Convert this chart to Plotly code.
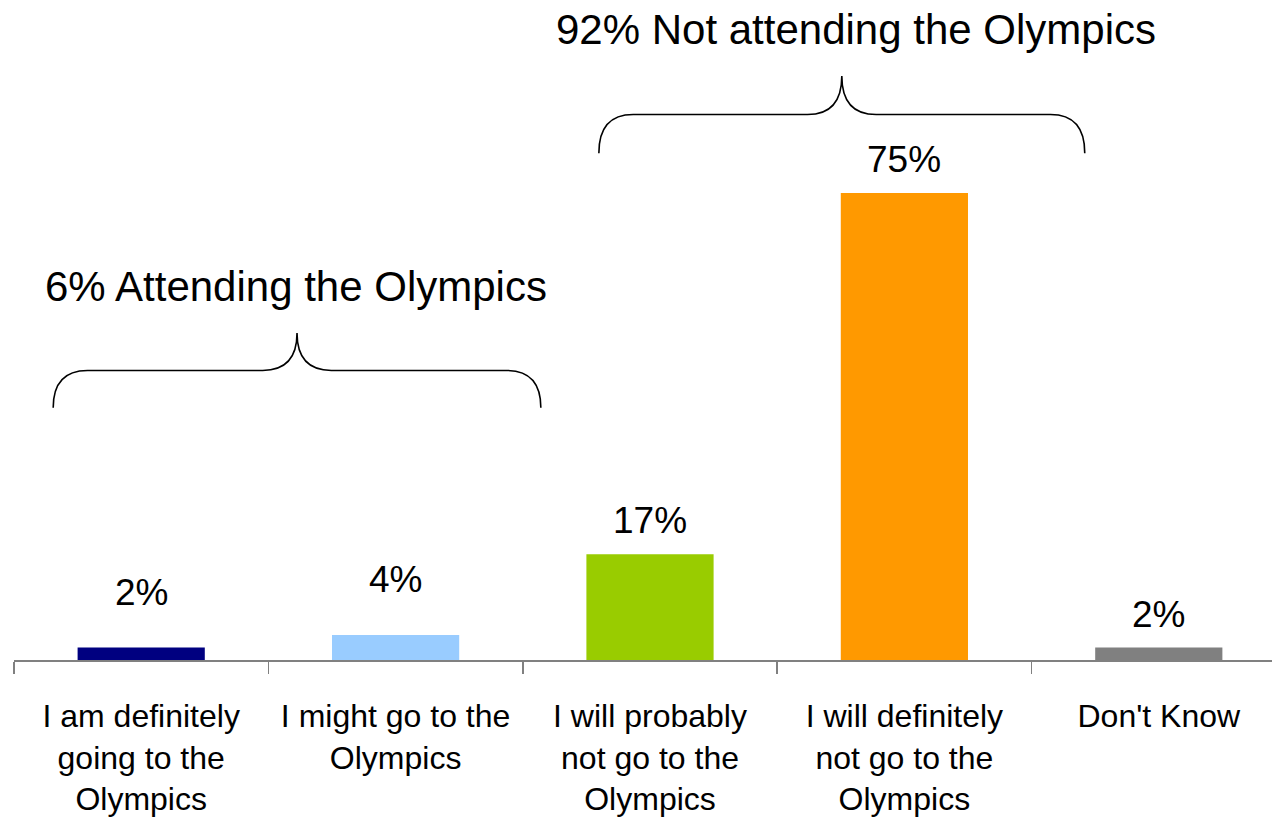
import plotly.graph_objects as go

categories = [
    "I am definitely<br>going to the<br>Olympics",
    "I might go to the<br>Olympics",
    "I will probably<br>not go to the<br>Olympics",
    "I will definitely<br>not go to the<br>Olympics",
    "Don't Know",
]
values = [2, 4, 17, 75, 2]
value_labels = ["2%", "4%", "17%", "75%", "2%"]
bar_colors = ["#000080", "#99CCFF", "#99CC00", "#FF9900", "#808080"]

group_titles = ["6% Attending the Olympics", "92% Not attending the Olympics"]

FONT = "Liberation Sans, Arial, Helvetica, sans-serif"

# style: extra vertical offset (px) of the value labels
label_shift = [22, 22, 0, 0, 0]

# brace geometry (category units / value units)
braces = [
    dict(x0=-0.346, x1=1.571, yb=40.5, yt=52.5, title_y=60.0, title_x=0.61),
    dict(x0=1.799, x1=3.709, yb=81.4, yt=93.8, title_y=101.2, title_x=2.81),
]

fig = go.Figure()
fig.add_trace(go.Bar(
    x=list(range(len(categories))),
    y=values,
    marker=dict(color=bar_colors, line=dict(width=0)),
    width=0.5,
    hoverinfo="skip",
))

def brace_path(x0, x1, yb, yt, dx=0.135):
    xt = (x0 + x1) / 2
    yh = (yb + yt) / 2
    return (f"M {x0},{yb} Q {x0},{yh} {x0+dx},{yh} L {xt-dx},{yh} "
            f"Q {xt},{yh} {xt},{yt} Q {xt},{yh} {xt+dx},{yh} "
            f"L {x1-dx},{yh} Q {x1},{yh} {x1},{yb}")

for b, title in zip(braces, group_titles):
    fig.add_shape(type="path", xref="x", yref="y",
                  path=brace_path(b["x0"], b["x1"], b["yb"], b["yt"]),
                  line=dict(color="black", width=1.6))
    fig.add_annotation(x=b["title_x"], y=b["title_y"], xref="x", yref="y",
                       text=title, showarrow=False,
                       font=dict(family=FONT, size=42, color="black"))

for i, (v, lab) in enumerate(zip(values, value_labels)):
    fig.add_annotation(x=i, y=v, xref="x", yref="y", text=lab,
                       showarrow=False, yanchor="bottom", yshift=11 + label_shift[i],
                       font=dict(family=FONT, size=37, color="black"))

fig.update_layout(
    width=1272, height=823,
    margin=dict(l=14, r=0, t=0, b=163),
    plot_bgcolor="white", paper_bgcolor="white",
    showlegend=False,
    xaxis=dict(
        range=[-0.5, 4.445],
        tickvals=list(range(len(categories))),
        ticktext=categories,
        showgrid=False, zeroline=False,
        showline=True, linecolor="#808080", linewidth=1.5,
        ticks="",
        ticklabelstandoff=27,
        tickfont=dict(family=FONT, size=32, color="black"),
        fixedrange=True,
        minor=dict(tickvals=[-0.5, 0.5, 1.5, 2.5, 3.5, 4.5], ticks="outside",
                   ticklen=12, tickcolor="#808080", tickwidth=1.5),
    ),
    yaxis=dict(range=[0, 106.0], visible=False, fixedrange=True),
)

fig.write_html("out.html",
               config={"displayModeBar": False, "staticPlot": True},
               post_script="document.body.style.margin='0';document.body.style.overflow='hidden';")
